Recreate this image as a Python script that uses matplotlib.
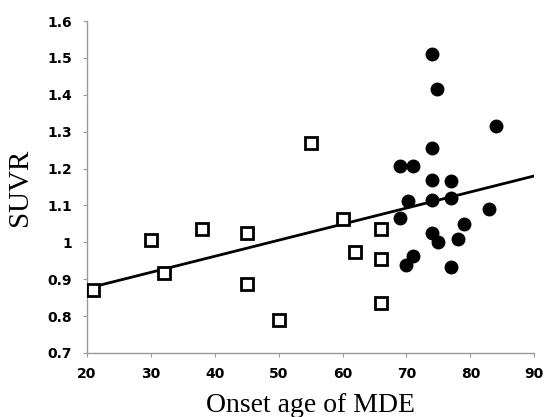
import numpy as np
import matplotlib
matplotlib.use('Agg')
import matplotlib.pyplot as plt
from matplotlib.ticker import FuncFormatter

# grupo de inicio temprano (cuadrados abiertos)
edad_temprana = [21, 30, 32, 38, 45, 45, 50, 55, 60, 62, 66, 66, 66]
suvr_temprana = [0.87, 1.006, 0.917, 1.036, 1.025, 0.887, 0.79, 1.27, 1.063, 0.974, 1.036, 0.955, 0.836]

# grupo de inicio tardio (circulos llenos)
edad_tardia = [74, 74.8, 84, 74, 69, 71, 74, 77, 70.2, 74, 77, 69, 83, 79, 74, 75, 78, 71, 70, 77]
suvr_tardia = [1.51, 1.416, 1.315, 1.256, 1.207, 1.207, 1.169, 1.166, 1.112, 1.115, 1.12, 1.066,
               1.09, 1.05, 1.025, 1.0, 1.009, 0.963, 0.939, 0.933]

# recta de regresion (extremos)
recta_x = [20.2, 90]
recta_y = [0.876, 1.18]

xticks = [20, 30, 40, 50, 60, 70, 80, 90]
yticks = [0.7, 0.8, 0.9, 1.0, 1.1, 1.2, 1.3, 1.4, 1.5, 1.6]


def main():
    fig = plt.figure(figsize=(5.44, 4.17), dpi=100)
    ax = fig.add_axes([0.16, 0.1535, 0.822, 0.7961])

    ax.plot(recta_x, recta_y, color='black', linewidth=2, zorder=2)
    ax.plot(edad_temprana, suvr_temprana, linestyle='none', marker='s', markersize=8,
            markerfacecolor='white', markeredgecolor='black', markeredgewidth=2, zorder=3)
    ax.plot(edad_tardia, suvr_tardia, linestyle='none', marker='o', markersize=9,
            markerfacecolor='black', markeredgecolor='black', zorder=3)

    ax.set_xlim(20, 90)
    ax.set_ylim(0.7, 1.6)
    ax.set_xticks(xticks)
    ax.set_yticks(yticks)
    ax.yaxis.set_major_formatter(FuncFormatter(lambda v, p: '%g' % round(v, 1)))

    for lado in ['top', 'right']:
        ax.spines[lado].set_visible(False)
    for lado in ['left', 'bottom']:
        ax.spines[lado].set_color('#9a9a9a')
        ax.spines[lado].set_linewidth(1)
    ax.tick_params(axis='both', direction='out', length=3, width=0.8, color='#9a9a9a',
                   labelsize=10)
    ax.tick_params(axis='x', pad=7)
    ax.tick_params(axis='y', pad=8)
    for etiqueta in ax.get_xticklabels() + ax.get_yticklabels():
        etiqueta.set_fontweight('bold')
        etiqueta.set_family('DejaVu Sans')

    ax.set_xlabel('Onset age of MDE', family='Liberation Serif', fontsize=20, labelpad=9)
    ax.set_ylabel('SUVR', family='Liberation Serif', fontsize=21, labelpad=10)

    fig.savefig('out.png', dpi=100)


main()
